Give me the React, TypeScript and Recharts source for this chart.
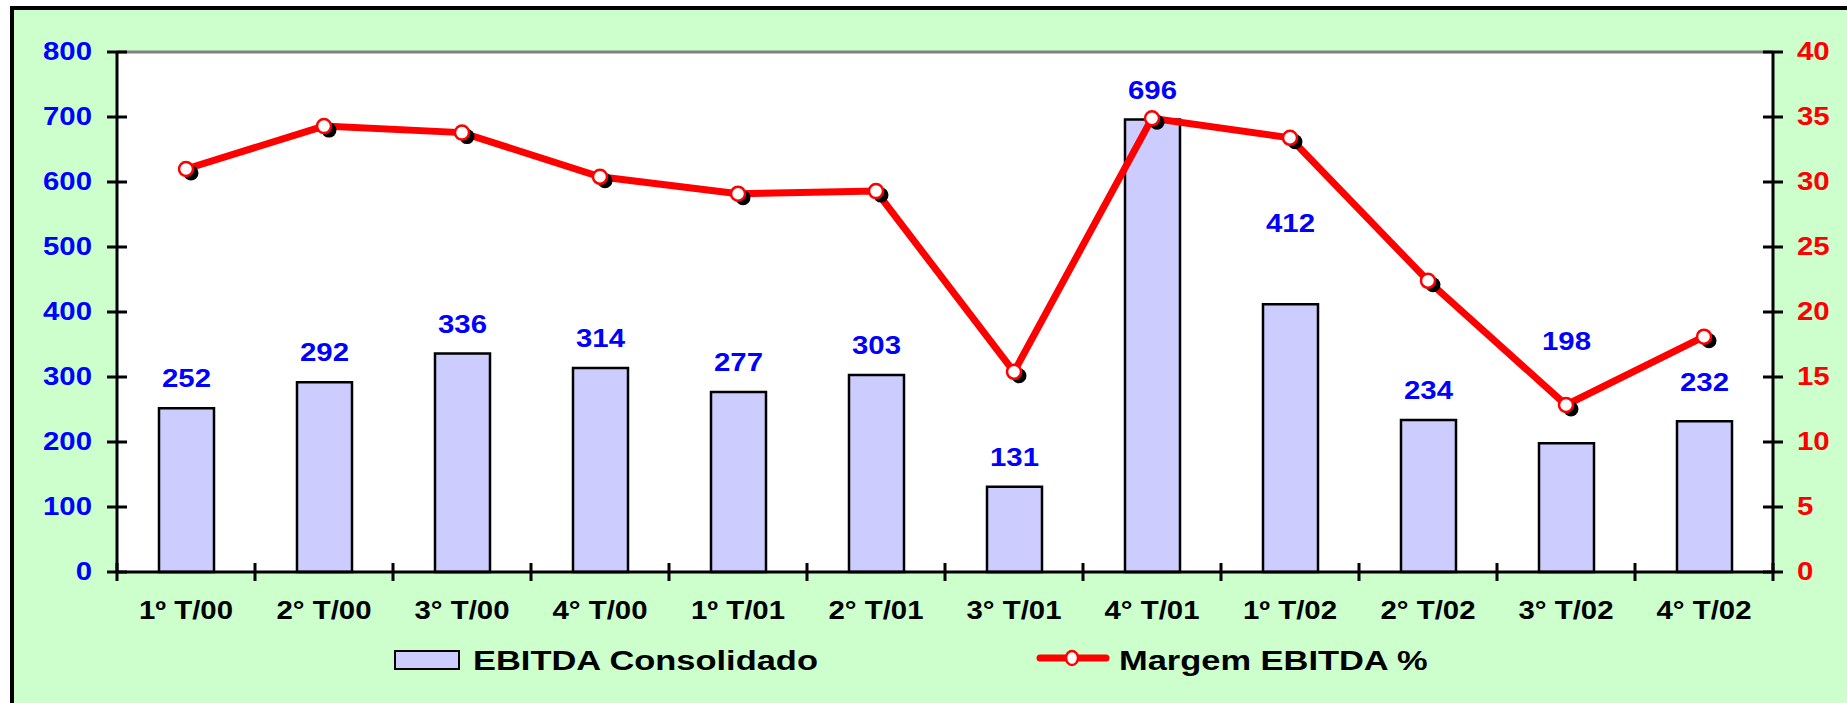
import React from 'react';
import { ComposedChart, Bar, Line, XAxis, YAxis, CartesianGrid, ReferenceLine, LabelList, Legend } from 'recharts';

const quarters = ['1º T/00', '2° T/00', '3° T/00', '4° T/00', '1º T/01', '2° T/01', '3° T/01', '4° T/01', '1º T/02', '2° T/02', '3° T/02', '4° T/02'];
const ebitda = [252, 292, 336, 314, 277, 303, 131, 696, 412, 234, 198, 232];
const margemPct = [31.0, 34.3, 33.8, 30.4, 29.1, 29.3, 15.4, 34.9, 33.4, 22.4, 12.85, 18.1];
const leftTicks = [0, 100, 200, 300, 400, 500, 600, 700, 800];
const rightTicks = [0, 5, 10, 15, 20, 25, 30, 35, 40];

const data = quarters.map((q, i) => ({ q, ebitda: ebitda[i], margem: margemPct[i] }));

// layout
const W = 1847;
const H = 703;
const PLOT_LEFT = 117;
const PLOT_RIGHT = 1773;
const PLOT_TOP = 52;
const PLOT_BOTTOM = 572;
const AXIS_W = 60;
const XAXIS_H = 60;
const BAND = (PLOT_RIGHT - PLOT_LEFT) / quarters.length;
const FONT = '"Liberation Sans", Arial, sans-serif';
const STRETCH = 1.13;

// some value labels were moved up by hand in the original
const labelLift: Record<number, number> = { 8: 51, 10: 72, 11: 9 };

const LeftTick = (props: any) => {
  const { x, y, payload } = props;
  const axisX = x + 25;
  return (
    <g>
      <line x1={axisX} x2={axisX + 10} y1={y} y2={y} stroke="#000" strokeWidth={3} />
      <text transform={`translate(${x},${y}) scale(${STRETCH},1)`} textAnchor="end" dy={8} fill="#0000FF" fontSize={26} fontWeight="bold" fontFamily={FONT}>
        {payload.value}
      </text>
    </g>
  );
};

const RightTick = (props: any) => {
  const { x, y, payload } = props;
  const axisX = x - 24;
  return (
    <g>
      <line x1={axisX - 10} x2={axisX} y1={y} y2={y} stroke="#000" strokeWidth={3} />
      <text transform={`translate(${x},${y}) scale(${STRETCH},1)`} textAnchor="start" dy={8} fill="#FF0000" fontSize={26} fontWeight="bold" fontFamily={FONT}>
        {payload.value}
      </text>
    </g>
  );
};

const BottomTick = (props: any) => {
  const { x, y, payload, index } = props;
  const axisY = y - 28;
  const half = BAND / 2;
  return (
    <g>
      <line x1={x - half} x2={x - half} y1={axisY - 9} y2={axisY + 9} stroke="#000" strokeWidth={3} />
      {index === quarters.length - 1 && (
        <line x1={x + half} x2={x + half} y1={axisY - 9} y2={axisY + 9} stroke="#000" strokeWidth={3} />
      )}
      <text transform={`translate(${x},${y + 19}) scale(${STRETCH},1)`} textAnchor="middle" fill="#000" fontSize={26} fontWeight="bold" fontFamily={FONT}>
        {payload.value}
      </text>
    </g>
  );
};

const BarValue = (props: any) => {
  const { x, y, width, value, index } = props;
  const lift = labelLift[index] || 0;
  return (
    <text transform={`translate(${x + width / 2},${y - 21 - lift}) scale(${STRETCH},1)`} textAnchor="middle" fill="#0000FF" fontSize={26} fontWeight="bold" fontFamily={FONT}>
      {value}
    </text>
  );
};

const MarginDot = (props: any) => {
  const { cx, cy, index } = props;
  if (cx == null || cy == null) return null;
  return (
    <g key={`dot-${index}`}>
      <circle cx={cx + 5} cy={cy + 4} r={7.5} fill="#000" />
      <circle cx={cx} cy={cy} r={7} fill="#fff" stroke="#FF0000" strokeWidth={2.5} />
    </g>
  );
};

const LegendContent = () => (
  <svg width={W} height={80} style={{ display: 'block' }}>
    <rect x={395} y={31} width={64} height={18} fill="#CCCCFF" stroke="#000" strokeWidth={2} />
    <text transform={`translate(473,50) scale(1.23,1)`} fontSize={28} fontWeight="bold" fontFamily={FONT} fill="#000">
      EBITDA Consolidado
    </text>
    <line x1={1040} x2={1106} y1={38} y2={38} stroke="#FF0000" strokeWidth={7} strokeLinecap="round" />
    <ellipse cx={1072} cy={38} rx={6} ry={7} fill="#fff" stroke="#FF0000" strokeWidth={2.5} />
    <text transform={`translate(1119,50) scale(1.23,1)`} fontSize={28} fontWeight="bold" fontFamily={FONT} fill="#000">
      Margem EBITDA %
    </text>
  </svg>
);

export default function App() {
  return (
    <div style={{ position: 'fixed', left: 0, top: 0, width: W, height: H, overflow: 'hidden', background: '#fff' }}>
      <div
        style={{
          position: 'absolute',
          left: 10,
          top: 6,
          width: W + 100,
          height: H + 100,
          border: '4px solid #000',
          background: '#CCFFCC',
        }}
      />
      <div style={{ position: 'absolute', left: 0, top: 0 }}>
        <ComposedChart
          width={W}
          height={H}
          data={data}
          margin={{
            top: PLOT_TOP,
            left: PLOT_LEFT - AXIS_W,
            right: W - PLOT_RIGHT - AXIS_W,
            bottom: H - PLOT_BOTTOM - XAXIS_H,
          }}
        >
          <CartesianGrid yAxisId="left" fill="#fff" horizontal={false} vertical={false} />
          <XAxis
            dataKey="q"
            height={XAXIS_H}
            interval={0}
            tickLine={false}
            tickSize={9}
            tickMargin={19}
            axisLine={{ stroke: '#000', strokeWidth: 3 }}
            tick={<BottomTick />}
          />
          <YAxis
            yAxisId="left"
            width={AXIS_W}
            domain={[0, 800]}
            ticks={leftTicks}
            interval={0}
            tickSize={10}
            tickMargin={15}
            axisLine={{ stroke: '#000', strokeWidth: 3 }}
            tickLine={{ stroke: '#000', strokeWidth: 3 }}
            tick={<LeftTick />}
          />
          <YAxis
            yAxisId="right"
            orientation="right"
            width={AXIS_W}
            domain={[0, 40]}
            ticks={rightTicks}
            interval={0}
            tickSize={10}
            tickMargin={14}
            axisLine={{ stroke: '#000', strokeWidth: 3 }}
            tickLine={{ stroke: '#000', strokeWidth: 3 }}
            tick={<RightTick />}
          />
          <ReferenceLine yAxisId="left" y={800} stroke="#808080" strokeWidth={3} />
          <Bar yAxisId="left" dataKey="ebitda" name="EBITDA Consolidado" barSize={55} fill="#CCCCFF" stroke="#000" strokeWidth={2.5} isAnimationActive={false}>
            <LabelList dataKey="ebitda" content={<BarValue />} />
          </Bar>
          <Line
            yAxisId="right"
            dataKey="margem"
            name="Margem EBITDA %"
            stroke="#FF0000"
            strokeWidth={7}
            dot={<MarginDot />}
            activeDot={false}
            isAnimationActive={false}
          />
          <Legend
            layout="vertical"
            verticalAlign="middle"
            align="center"
            content={<LegendContent />}
            wrapperStyle={{ left: 0, top: 620, width: W, height: 80 }}
          />
        </ComposedChart>
      </div>
    </div>
  );
}
